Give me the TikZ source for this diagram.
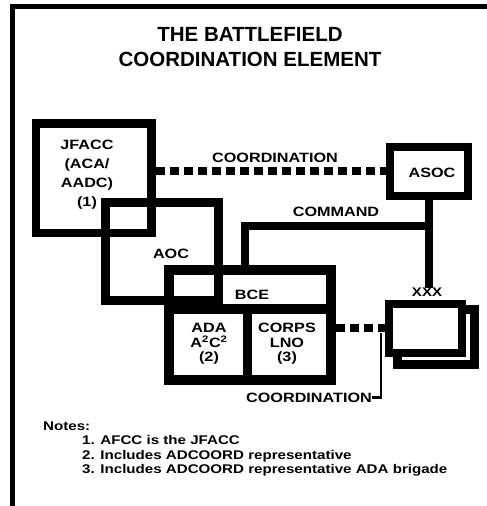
\documentclass[tikz,border=0pt]{standalone}
\usepackage{fontspec}
\setmainfont{Liberation Sans}
\newfontfamily\wf[FakeStretch=1.2]{Liberation Sans}
\begin{document}
\begin{tikzpicture}[x=1pt,y=-1pt,
  box/.style={draw,rectangle,inner sep=0pt,line width=#1},
  lbl/.style={font=\wf\bfseries\fontsize{13.5}{14.5}\selectfont, inner sep=0pt, align=center},
  ttl/.style={font=\bfseries\fontsize{20.5}{25}\selectfont, inner sep=0pt, align=center},
  note/.style={font=\wf\bfseries\fontsize{12.6}{14}\selectfont, inner sep=0pt, anchor=base west},
  thick line/.style={line width=8pt},
  dashline/.style={line width=8pt, dash pattern=on 9pt off 5pt},
  thin line/.style={line width=2.5pt}]
\useasboundingbox (0,0) rectangle (487,506);
% frame
\fill (10,4) rectangle (15,506);
\fill (10,4) rectangle (487,9);
% title
\node[ttl] (title) at (250,47) {THE BATTLEFIELD\\COORDINATION ELEMENT};
% boxes
\node[box=8.5pt,minimum width=115.5pt,minimum height=109.5pt] (jfacc) at (93.75,178.25) {};
\node[box=9pt,minimum width=112.5pt,minimum height=98pt] (aoc) at (161.75,251) {};
\node[box=10pt,minimum width=162pt,minimum height=110pt] (bce) at (250,325) {};
\node[box=8pt,minimum width=78pt,minimum height=48.5pt] (asoc) at (428.5,171.25) {};
\node[box=9pt,fill=white,minimum width=77.5pt,minimum height=55.5pt] (xxxb) at (435.75,336.75) {};
\node[box=8pt,fill=white,minimum width=72.5pt,minimum height=49.5pt] (xxxf) at (425.25,328.25) {};
% BCE dividers
\coordinate (divl) at (169,309);
\coordinate (divm) at (247.5,309);
\draw[line width=10pt] (divl) -- (divl -| bce.east);
\draw[line width=9pt] (divm) -- (divm |- bce.south);
% labels
\node[lbl] (coordt) at (275,158) {COORDINATION};
\node[lbl] (cmdl) at (336,212) {COMMAND};
\node[lbl] (aocl) at (171,254) {AOC};
\node[lbl] (bcel) at (252,294.5) {BCE};
\node[lbl] (asocl) at (432,173) {ASOC};
\node[lbl,font=\wf\bfseries\fontsize{12.5}{14}\selectfont] (xxxl) at (427,292) {XXX};
\node[lbl,font=\wf\bfseries\fontsize{13.5}{19}\selectfont] (jfl) at (87,175) {JFACC\\(ACA/\\AADC)\\(1)};
\node[lbl] (adal) at (209,344) {ADA\\A\textsuperscript{2}C\textsuperscript{2}\\(2)};
\node[lbl] (corpsl) at (287,344) {CORPS\\LNO\\(3)};
\node[lbl] (coordb) at (309,397.5) {COORDINATION};
% connectors
\draw[dashline] (asoc.west -| jfacc.east) -- (asoc.west);
\coordinate (cmd) at (245,226);
\draw[thick line] (bce.north -| cmd) -- (cmd) -- (cmd -| asoc.south);
\draw[thick line] (asoc.south) -- (asoc.south |- xxxl.north);
\draw[dashline] (xxxf.west -| bce.east) -- (xxxf.west);
\coordinate (ctop) at (381,333);
\draw[thin line] (coordb.east) -| (ctop);
% notes
\node[note] (nh) at (43,430) {Notes:};
\node[note] (n1) at (82,444) {1. AFCC is the JFACC};
\node[note] (n2) at (82,459) {2. Includes ADCOORD representative};
\node[note] (n3) at (82,473) {3. Includes ADCOORD representative ADA brigade};
\end{tikzpicture}
\end{document}
